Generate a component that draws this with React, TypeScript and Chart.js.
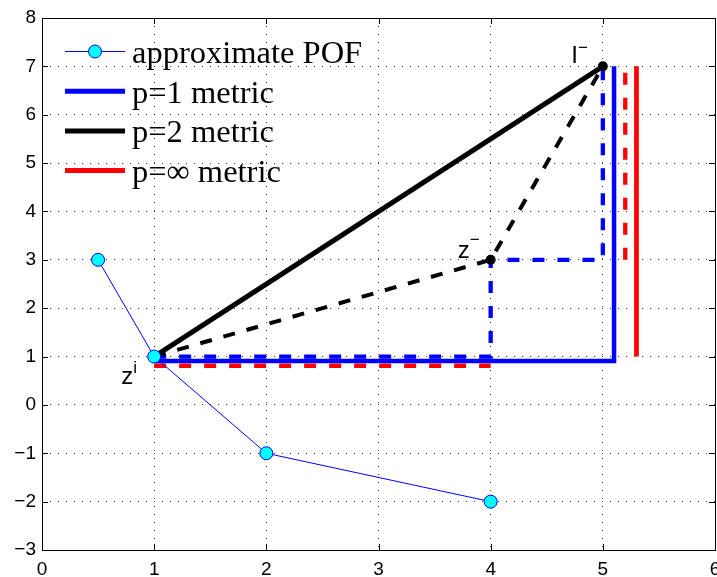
import React, { useEffect, useRef } from "react";
import { Chart, registerables } from "chart.js";

Chart.register(...registerables);

// ---- axis ticks ----
const xTicks = [0, 1, 2, 3, 4, 5, 6];
const yTicks = [-3, -2, -1, 0, 1, 2, 3, 4, 5, 6, 7, 8];

// ---- legend ----
const legendLabels = ["approximate POF", "p=1 metric", "p=2 metric", "p=\u221e metric"];

// ---- series ----
const pofX = [0.5, 1, 2, 4];
const pofY = [3, 1, -1, -2];

const p1SolidX = [1, 5.1, 5.1];
const p1SolidY = [0.91, 0.91, 7];
const p1DashedX = [1, 4, 4, 5, 5];
const p1DashedY = [1, 1, 3, 3, 7];

const p2SolidX = [1, 5];
const p2SolidY = [1, 7];
const p2DashedX = [1, 4, 5];
const p2DashedY = [1, 3, 7];

const pInfDashedLowX = [1, 4];
const pInfDashedLowY = [0.81, 0.81];
const pInfDashedHighX = [5.2, 5.2];
const pInfDashedHighY = [3, 7];
const pInfSolidX = [5.3, 5.3];
const pInfSolidY = [1, 7];

const refPointX = [4, 5];
const refPointY = [3, 7];

// ---- point annotations ----
const annX = [1, 4, 5];
const annY = [1, 3, 7];
const annMain = ["z", "z", "I"];
const annSup = ["i", "\u2212", "\u2212"];

const toPts = (xs: number[], ys: number[]) => xs.map((x, i) => ({ x, y: ys[i] }));

const BLUE = "#0000ff";
const RED = "#ff0000";
const BLACK = "#000000";
const CYAN = "#00ffff";

const fmt = (v: any) => {
  const n = Number(v);
  return n < 0 ? "\u2212" + Math.abs(n) : String(n);
};

const boxPlugin = {
  id: "box",
  beforeDatasetsDraw(chart: any) {
    const { ctx, chartArea: a, scales } = chart;
    ctx.save();
    ctx.strokeStyle = "#000";
    ctx.lineWidth = 1;
    ctx.strokeRect(a.left + 0.5, a.top + 0.5, a.right - a.left, a.bottom - a.top);
    const tl = 6;
    ctx.beginPath();
    xTicks.forEach((v) => {
      const px = Math.round(scales.x.getPixelForValue(v)) + 0.5;
      ctx.moveTo(px, a.bottom);
      ctx.lineTo(px, a.bottom - tl);
      ctx.moveTo(px, a.top);
      ctx.lineTo(px, a.top + tl);
    });
    yTicks.forEach((v) => {
      const py = Math.round(scales.y.getPixelForValue(v)) + 0.5;
      ctx.moveTo(a.left, py);
      ctx.lineTo(a.left + tl, py);
      ctx.moveTo(a.right, py);
      ctx.lineTo(a.right - tl, py);
    });
    ctx.stroke();
    ctx.restore();
  },
};

const annOffsets = [
  { dx: -33, dy: 27, sdy: -10.5 },
  { dx: -33, dy: -2, sdy: -13 },
  { dx: -31.5, dy: -3, sdy: -10 },
];

const labelPlugin = {
  id: "pointLabels",
  afterDatasetsDraw(chart: any) {
    const { ctx, scales } = chart;
    ctx.save();
    ctx.fillStyle = "#000";
    ctx.textBaseline = "alphabetic";
    ctx.textAlign = "left";
    annX.forEach((xv, i) => {
      const px = scales.x.getPixelForValue(xv);
      const py = scales.y.getPixelForValue(annY[i]);
      const o = annOffsets[i];
      ctx.font = '24px "Liberation Sans", Arial, sans-serif';
      const tx = px + o.dx;
      const ty = py + o.dy;
      ctx.fillText(annMain[i], tx, ty);
      const w = ctx.measureText(annMain[i]).width;
      ctx.font = '17px "Liberation Sans", Arial, sans-serif';
      ctx.fillText(annSup[i], tx + w, ty + o.sdy);
    });
    ctx.restore();
  },
};

const legendPlugin = {
  id: "customLegend",
  afterDatasetsDraw(chart: any) {
    const { ctx } = chart;
    const styles = [
      { color: BLUE, width: 1, marker: true },
      { color: BLUE, width: 5, marker: false },
      { color: BLACK, width: 5, marker: false },
      { color: RED, width: 5, marker: false },
    ];
    ctx.save();
    legendLabels.forEach((lab, i) => {
      const cy = 51.5 + i * 39.7;
      const s = styles[i];
      ctx.beginPath();
      ctx.strokeStyle = s.color;
      ctx.lineWidth = s.width;
      ctx.moveTo(65, cy);
      ctx.lineTo(125, cy);
      ctx.stroke();
      if (s.marker) {
        ctx.beginPath();
        ctx.arc(95, cy, 6.5, 0, Math.PI * 2);
        ctx.fillStyle = CYAN;
        ctx.fill();
        ctx.lineWidth = 1;
        ctx.strokeStyle = BLUE;
        ctx.stroke();
      }
      ctx.fillStyle = "#000";
      ctx.font = '32.5px "Liberation Serif", "Times New Roman", serif';
      ctx.textBaseline = "alphabetic";
      ctx.textAlign = "left";
      ctx.fillText(lab, 132, cy + 11.5);
    });
    ctx.restore();
  },
};

const lineDs = (data: any, color: string, width: number, dash: number[] | undefined, order: number) => ({
  data,
  showLine: true,
  borderColor: color,
  borderWidth: width,
  borderDash: dash,
  borderJoinStyle: "miter",
  borderCapStyle: "butt",
  pointRadius: 0,
  pointHoverRadius: 0,
  order,
});

export default function App() {
  const ref = useRef<HTMLCanvasElement | null>(null);

  useEffect(() => {
    if (!ref.current) return;
    const tickFont = { family: '"Liberation Sans", Arial, Helvetica, sans-serif', size: 19 };
    const chart = new Chart(ref.current, {
      type: "scatter",
      data: {
        datasets: [
          {
            label: legendLabels[0],
            data: toPts(pofX, pofY),
            showLine: true,
            borderColor: BLUE,
            borderWidth: 1,
            pointRadius: 6.5,
            pointBackgroundColor: CYAN,
            pointBorderColor: BLUE,
            pointBorderWidth: 1,
            order: 0,
          } as any,
          lineDs(toPts(p2SolidX, p2SolidY), BLACK, 5, undefined, 1),
          {
            data: toPts(refPointX, refPointY),
            showLine: false,
            pointRadius: 5,
            pointBackgroundColor: BLACK,
            pointBorderWidth: 0,
            order: 2,
          } as any,
          lineDs(toPts(p2DashedX, p2DashedY), BLACK, 4, [12, 12], 3),
          lineDs(toPts(p1DashedX, p1DashedY), BLUE, 4.3, [12, 13], 4),
          lineDs(toPts(p1SolidX, p1SolidY), BLUE, 4.5, undefined, 5),
          lineDs(toPts(pInfDashedLowX, pInfDashedLowY), RED, 4.3, [12, 13], 6),
          lineDs(toPts(pInfDashedHighX, pInfDashedHighY), RED, 4.3, [12, 13], 6),
          lineDs(toPts(pInfSolidX, pInfSolidY), RED, 4.7, undefined, 7),
        ] as any,
      },
      options: {
        animation: false,
        responsive: false,
        events: [],
        layout: { padding: { top: 18, right: 2, left: 0, bottom: 0 }, autoPadding: false } as any,
        plugins: { legend: { display: false }, tooltip: { enabled: false } },
        scales: {
          x: {
            type: "linear",
            min: 0,
            max: 6,
            afterBuildTicks: (s: any) => {
              s.ticks = xTicks.map((v) => ({ value: v }));
            },
            afterFit: (s: any) => {
              s.height = 27;
              s.paddingLeft = 0;
              s.paddingRight = 0;
            },
            grid: { color: "rgba(0,0,0,0.75)", lineWidth: 1, drawTicks: false },
            border: { display: false, dash: [1, 7] },
            ticks: { color: "#000", font: tickFont, padding: 8, maxRotation: 0, autoSkip: false, callback: fmt },
          },
          y: {
            type: "linear",
            min: -3,
            max: 8,
            afterBuildTicks: (s: any) => {
              s.ticks = yTicks.map((v) => ({ value: v }));
            },
            afterFit: (s: any) => {
              s.width = 42;
              s.paddingTop = 0;
              s.paddingBottom = 0;
            },
            grid: { color: "rgba(0,0,0,0.75)", lineWidth: 1, drawTicks: false },
            border: { display: false, dash: [1, 7] },
            ticks: { color: "#000", font: tickFont, padding: 6, autoSkip: false, callback: fmt },
          },
        },
      } as any,
      plugins: [boxPlugin, legendPlugin, labelPlugin],
    });
    return () => chart.destroy();
  }, []);

  return (
    <div style={{ position: "fixed", left: 0, top: 0, width: 717, height: 577, background: "#fff" }}>
      <canvas ref={ref} width={717} height={577} style={{ display: "block" }} />
    </div>
  );
}
